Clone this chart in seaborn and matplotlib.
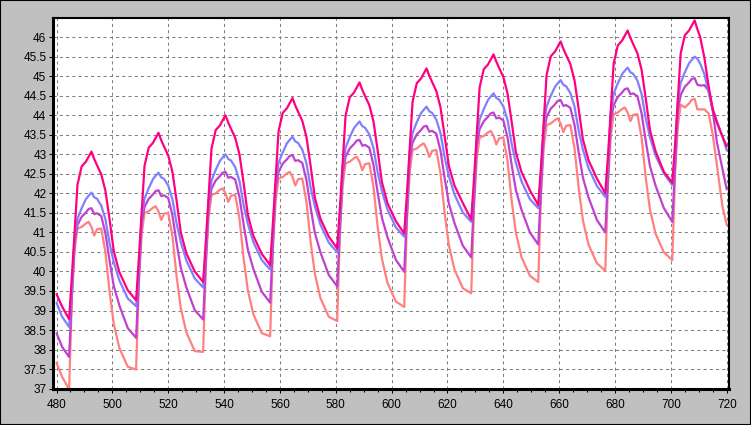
import matplotlib
matplotlib.use("Agg")
import matplotlib.pyplot as plt
from matplotlib.patches import Rectangle
from matplotlib.ticker import FixedLocator, MultipleLocator
import seaborn as sns
import pandas as pd

# ---- data ----
day_starts = [480, 504, 528, 552, 576, 600, 624, 648, 672, 696]
phase = [4.5, 5.5, 6.5, 7.5, 9.0, 10.5, 11.5, 12.5, 13.5, 14.5, 16.0, 17.5, 19.0, 20.5, 22.5, 25.5]
lead_hours = [480, 482]
last_hour = 720

hours = (lead_hours
         + [d + s for d in day_starts[:-1] for s in phase]
         + [day_starts[-1] + s for s in phase[:-1]]
         + [last_hour])

pink = [39.42, 39.10,
        38.78, 39.88, 41.07, 42.22, 42.69, 42.81, 42.94, 43.07, 42.88, 42.72, 42.49, 42.07, 41.33, 40.52, 39.98, 39.52,
        39.26, 40.36, 41.55, 42.70, 43.17, 43.29, 43.42, 43.55, 43.36, 43.20, 42.97, 42.55, 41.81, 41.00, 40.46, 40.00,
        39.73, 40.81, 42.00, 43.15, 43.62, 43.74, 43.87, 44.00, 43.81, 43.65, 43.42, 43.00, 42.26, 41.45, 40.91, 40.45,
        40.16, 41.25, 42.44, 43.59, 44.06, 44.18, 44.31, 44.44, 44.25, 44.09, 43.86, 43.44, 42.70, 41.89, 41.35, 40.89,
        40.59, 41.65, 42.84, 43.99, 44.46, 44.58, 44.71, 44.84, 44.65, 44.49, 44.26, 43.84, 43.10, 42.29, 41.75, 41.29,
        40.97, 42.01, 43.20, 44.35, 44.82, 44.94, 45.07, 45.20, 45.01, 44.85, 44.62, 44.20, 43.46, 42.70, 42.20, 41.75,
        41.33, 42.37, 43.56, 44.71, 45.18, 45.30, 45.43, 45.56, 45.37, 45.21, 44.98, 44.56, 43.82, 43.05, 42.55, 42.08,
        41.70, 42.70, 43.89, 45.04, 45.51, 45.63, 45.76, 45.89, 45.70, 45.54, 45.31, 44.89, 44.15, 43.38, 42.85, 42.38,
        42.00, 42.98, 44.17, 45.32, 45.79, 45.91, 46.04, 46.17, 45.98, 45.82, 45.59, 45.17, 44.43, 43.62, 43.08, 42.55,
        42.27, 43.24, 44.43, 45.58, 46.05, 46.17, 46.30, 46.43, 46.20, 46.00, 45.47, 44.75, 44.15, 43.80, 43.45,
        43.20]

blue = [39.20, 38.84,
        38.58, 39.57, 40.88, 41.35, 41.62, 41.85, 41.94, 42.02, 41.90, 41.86, 41.69, 41.34, 40.72, 40.24, 39.77, 39.31,
        39.11, 40.08, 41.39, 41.86, 42.13, 42.36, 42.45, 42.53, 42.41, 42.37, 42.20, 41.85, 41.23, 40.75, 40.28, 39.82,
        39.59, 40.55, 41.86, 42.33, 42.60, 42.83, 42.92, 43.00, 42.88, 42.84, 42.67, 42.32, 41.70, 41.22, 40.75, 40.29,
        40.05, 41.00, 42.31, 42.78, 43.05, 43.28, 43.37, 43.45, 43.33, 43.29, 43.12, 42.77, 42.15, 41.67, 41.20, 40.74,
        40.49, 41.39, 42.70, 43.17, 43.44, 43.67, 43.76, 43.84, 43.72, 43.68, 43.51, 43.16, 42.54, 42.06, 41.59, 41.13,
        40.89, 41.77, 43.08, 43.55, 43.82, 44.05, 44.14, 44.22, 44.10, 44.06, 43.89, 43.54, 42.92, 42.44, 41.97, 41.51,
        41.27, 42.11, 43.42, 43.89, 44.16, 44.39, 44.48, 44.56, 44.44, 44.40, 44.23, 43.88, 43.26, 42.78, 42.31, 41.85,
        41.62, 42.45, 43.76, 44.23, 44.50, 44.73, 44.82, 44.90, 44.78, 44.74, 44.57, 44.22, 43.60, 43.12, 42.65, 42.19,
        41.91, 42.77, 44.08, 44.55, 44.82, 45.05, 45.14, 45.22, 45.10, 45.06, 44.89, 44.54, 43.92, 43.44, 42.97, 42.51,
        42.21, 43.05, 44.36, 44.83, 45.10, 45.33, 45.42, 45.50, 45.45, 45.32, 45.05, 44.60, 44.15, 43.85, 43.45,
        43.10]

purple = [38.42, 38.07,
          37.81, 39.37, 40.79, 41.19, 41.40, 41.51, 41.60, 41.62, 41.47, 41.49, 41.42, 40.98, 40.27, 39.63, 39.13, 38.55,
          38.30, 39.83, 41.25, 41.65, 41.86, 41.97, 42.06, 42.08, 41.93, 41.95, 41.88, 41.44, 40.73, 40.09, 39.59, 39.01,
          38.77, 40.30, 41.72, 42.12, 42.33, 42.44, 42.53, 42.55, 42.40, 42.42, 42.35, 41.91, 41.20, 40.56, 40.06, 39.48,
          39.20, 40.73, 42.15, 42.55, 42.76, 42.87, 42.96, 42.98, 42.83, 42.85, 42.78, 42.34, 41.63, 40.99, 40.49, 39.91,
          39.62, 41.12, 42.54, 42.94, 43.15, 43.26, 43.35, 43.37, 43.22, 43.24, 43.17, 42.73, 42.02, 41.38, 40.88, 40.30,
          39.99, 41.48, 42.90, 43.30, 43.51, 43.62, 43.71, 43.73, 43.58, 43.60, 43.53, 43.09, 42.38, 41.74, 41.24, 40.66,
          40.36, 41.82, 43.24, 43.64, 43.85, 43.96, 44.05, 44.07, 43.92, 43.94, 43.87, 43.43, 42.72, 42.08, 41.58, 41.00,
          40.69, 42.14, 43.56, 43.96, 44.17, 44.28, 44.37, 44.39, 44.24, 44.26, 44.19, 43.75, 43.04, 42.40, 41.90, 41.32,
          41.00, 42.44, 43.86, 44.26, 44.47, 44.58, 44.67, 44.69, 44.54, 44.56, 44.49, 44.05, 43.34, 42.70, 42.20, 41.62,
          41.27, 42.70, 44.12, 44.52, 44.73, 44.84, 44.93, 44.95, 44.78, 44.76, 44.77, 44.63, 44.10, 43.30, 42.62,
          42.10]

salmon = [37.66, 37.30,
          36.98, 39.34, 40.56, 41.10, 41.14, 41.23, 41.27, 41.14, 40.92, 41.08, 41.10, 40.50, 39.47, 38.66, 38.04, 37.56,
          37.49, 39.74, 40.96, 41.50, 41.54, 41.63, 41.67, 41.54, 41.32, 41.48, 41.50, 40.90, 39.87, 39.06, 38.44, 37.96,
          37.94, 40.20, 41.42, 41.96, 42.00, 42.09, 42.13, 42.00, 41.78, 41.94, 41.96, 41.36, 40.33, 39.52, 38.90, 38.42,
          38.34, 40.62, 41.84, 42.38, 42.42, 42.51, 42.55, 42.42, 42.20, 42.36, 42.38, 41.78, 40.75, 39.94, 39.32, 38.84,
          38.73, 41.01, 42.23, 42.77, 42.81, 42.90, 42.94, 42.81, 42.59, 42.75, 42.77, 42.17, 41.14, 40.33, 39.71, 39.23,
          39.09, 41.35, 42.57, 43.11, 43.15, 43.24, 43.28, 43.15, 42.93, 43.09, 43.11, 42.51, 41.48, 40.67, 40.05, 39.57,
          39.44, 41.67, 42.89, 43.43, 43.47, 43.56, 43.60, 43.47, 43.25, 43.41, 43.43, 42.83, 41.80, 40.99, 40.37, 39.89,
          39.73, 41.99, 43.21, 43.75, 43.79, 43.88, 43.92, 43.79, 43.57, 43.73, 43.75, 43.15, 42.12, 41.31, 40.69, 40.21,
          40.02, 42.27, 43.49, 44.03, 44.07, 44.16, 44.20, 44.07, 43.85, 44.01, 44.03, 43.43, 42.40, 41.59, 40.97, 40.49,
          40.29, 42.51, 43.73, 44.27, 44.20, 44.30, 44.40, 44.42, 44.15, 44.15, 44.15, 44.05, 43.50, 42.70, 41.65,
          41.19]

x_ticks = [480, 500, 520, 540, 560, 580, 600, 620, 640, 660, 680, 700, 720]
y_ticks = [37, 37.5, 38, 38.5, 39, 39.5, 40, 40.5, 41, 41.5, 42, 42.5, 43, 43.5, 44, 44.5, 45, 45.5, 46]
y_tick_labels = ["37", "37.5", "38", "38.5", "39", "39.5", "40", "40.5", "41", "41.5",
                 "42", "42.5", "43", "43.5", "44", "44.5", "45", "45.5", "46"]

series = {"Sensor 4": salmon, "Sensor 3": purple, "Sensor 2": blue, "Sensor 1": pink}
colors = {"Sensor 4": "#FF8080", "Sensor 3": "#C040D0", "Sensor 2": "#8080FF", "Sensor 1": "#FF0080"}

# ---- plot ----
sns.set_style("white")
plt.rcParams["font.family"] = ["Liberation Sans", "DejaVu Sans"]

fig = plt.figure(figsize=(7.51, 4.25), dpi=100, facecolor="#C0C0C0")
ax = fig.add_axes([0.0710, 0.0847, 0.8993, 0.8729])
ax.set_facecolor("white")

for name, vals in series.items():
    df = pd.DataFrame({"hour": hours, "value": vals})
    sns.lineplot(data=df, x="hour", y="value", ax=ax, color=colors[name],
                 linewidth=1.6, estimator=None, sort=False, legend=False)

ax.set_xlim(478.85, 720.7)
ax.set_ylim(36.99, 46.49)

ax.xaxis.set_major_locator(FixedLocator(x_ticks))
ax.xaxis.set_minor_locator(MultipleLocator(5))
ax.yaxis.set_major_locator(FixedLocator(y_ticks))
ax.set_yticklabels(y_tick_labels)
ax.set_xticklabels([str(v) for v in x_ticks])

ax.grid(True, which="major", color="#808080", linestyle=(0, (3, 3)), linewidth=0.75)
ax.set_axisbelow(True)

ax.tick_params(axis="both", which="major", direction="out", length=3, width=0.75,
               color="black", labelsize=8.5, labelcolor="black")
ax.tick_params(axis="x", which="major", pad=4)
ax.tick_params(axis="y", which="major", pad=2)
ax.tick_params(axis="x", which="minor", direction="out", length=2, width=0.75, color="black")
ax.tick_params(left=True, bottom=True)
ax.tick_params(axis="x", which="minor", bottom=True)

for side in ["left", "bottom"]:
    ax.spines[side].set_linewidth(2.2)
    ax.spines[side].set_color("black")
for side in ["top", "right"]:
    ax.spines[side].set_linewidth(1.5)
    ax.spines[side].set_color("black")
    ax.spines[side].set_visible(True)

ax.set_xlabel("")
ax.set_ylabel("")

fig.patches.append(Rectangle((0, 0), 1, 1, transform=fig.transFigure, fill=False,
                             edgecolor="black", linewidth=1.5))

fig.savefig("out.png", dpi=100, facecolor=fig.get_facecolor())
